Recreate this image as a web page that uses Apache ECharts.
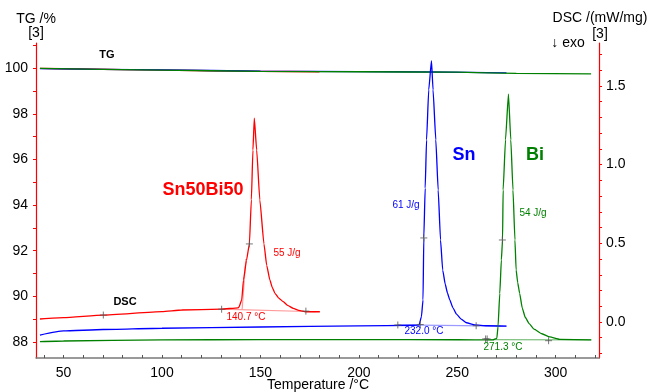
<!DOCTYPE html>
<html>
<head>
<meta charset="utf-8">
<script src="https://cdn.jsdelivr.net/npm/echarts@6/dist/echarts.min.js"></script>
<style>
  html, body { margin: 0; padding: 0; background: #fff; }
  #chart { width: 648px; height: 392px; }
</style>
</head>
<body>
<div id="chart"></div>
<script>
// temperature axis ticks
const tempLabels = [50, 100, 150, 200, 250, 300]
const tempTicks = [40, 50, 60, 70, 80, 90, 100, 110, 120, 130, 140, 150, 160, 170, 180, 190, 200,
  210, 220, 230, 240, 250, 260, 270, 280, 290, 300, 310, 320]
const tgLabels = [88, 90, 92, 94, 96, 98, 100]
const tgTicks = [88, 89, 90, 91, 92, 93, 94, 95, 96, 97, 98, 99, 100, 101]
const dscLabels = [0, 0.5, 1.0, 1.5]
const dscTicks = [-0.2, -0.1, 0, 0.1, 0.2, 0.3, 0.4, 0.5, 0.6, 0.7, 0.8, 0.9, 1.0, 1.1, 1.2, 1.3, 1.4, 1.5, 1.6, 1.7]

// TG curves (%)
const tgSnBiT = [38, 60, 100, 150, 180]
const tgSnBi = [99.99, 99.96, 99.91, 99.86, 99.84]
const tgSnT = [38, 100, 150, 200, 237, 275]
const tgSn = [99.98, 99.92, 99.87, 99.85, 99.83, 99.79]
const tgBiT = [38, 100, 150, 200, 250, 280, 318]
const tgBi = [99.99, 99.91, 99.86, 99.84, 99.82, 99.77, 99.75]

// DSC curves (mW/mg)
const dscSnBiT = [38, 50, 70, 100, 110, 130, 138.6, 139.1, 140.5, 141.4, 142.9, 144.4, 145.4, 146.2, 146.9,
  148.1, 149.7, 151.8, 153.2, 154.8, 156, 157.4, 159.3, 161.6, 163.8, 166.7, 169.5, 173.1, 180.2]
const dscSnBi = [0.019, 0.028, 0.044, 0.066, 0.076, 0.081, 0.09, 0.095, 0.14, 0.267, 0.39, 0.496, 0.776, 1.093, 1.295,
  1.093, 0.776, 0.496, 0.36, 0.267, 0.22, 0.182, 0.152, 0.129, 0.105, 0.087, 0.074, 0.065, 0.065]
const dscSnT = [38, 50, 70, 100, 150, 200, 228, 230.6, 231.8, 232.6, 233.0, 233.7, 234.4, 235.5, 236.9,
  237.7, 239.1, 240.3, 241.5, 242.6, 243.9, 245, 246.2, 247.8, 249.6, 252, 254.7, 258.9, 265, 275]
const dscSn = [-0.083, -0.057, -0.048, -0.04, -0.032, -0.025, -0.021, -0.019, 0.034, 0.14, 0.534, 0.85, 1.157, 1.475, 1.661,
  1.475, 1.157, 0.839, 0.521, 0.33, 0.24, 0.185, 0.14, 0.09, 0.05, 0.018, -0.005, -0.018, -0.024, -0.027]
const dscBiT = [38, 50, 100, 150, 200, 250, 268, 270.1, 270.7, 271.6, 272.4, 273.0, 273.3, 274.5, 276.0,
  277.2, 278.3, 279.3, 279.9, 280.7, 281.7, 283, 284.5, 286.5, 289, 293, 297.0, 302.0, 318.1]
const dscBi = [-0.125, -0.121, -0.114, -0.112, -0.112, -0.113, -0.114, -0.104, -0.03, 0.182, 0.394, 0.521, 0.839, 1.157, 1.448,
  1.157, 0.839, 0.521, 0.331, 0.25, 0.182, 0.09, 0.03, -0.01, -0.045, -0.075, -0.095, -0.11, -0.114]

// evaluation baselines and onset tangents
const baseSnBiT = [130, 178]
const baseSnBi = [0.081, 0.065]
const tanSnBiT = [140.7, 142.6]
const tanSnBi = [0.078, 0.4]
const baseSnT = [219.8, 275]
const baseSn = [-0.019, -0.027]
const baseBiT = [264.4, 318]
const baseBi = [-0.112, -0.114]

// evaluation limit markers (+)
const markSnBiT = [70.2, 130.3, 144.4, 173.1]
const markSnBi = [0.044, 0.081, 0.496, 0.069]
const markSnT = [219.8, 231.2, 233.0, 259.6]
const markSn = [-0.019, -0.016, 0.534, -0.024]
const markBiT = [264.4, 265.2, 272.9, 296.4]
const markBi = [-0.108, -0.108, 0.521, -0.119]

const pairs = (xs, ys) => xs.map((x, i) => [x, ys[i]])

const chart = echarts.init(document.getElementById('chart'), null, { renderer: 'canvas' })

const font = 'Liberation Sans, Arial, sans-serif'
const RED = '#ff0000'
const BLUE = '#0000ff'
const GREEN = '#008000'

const lineSeries = (name, xs, ys, color, yAxisIndex, width, z) => ({
  name,
  type: 'line',
  yAxisIndex,
  data: pairs(xs, ys),
  showSymbol: false,
  smooth: 0.15,
  smoothMonotone: 'x',
  lineStyle: { color, width },
  z,
  silent: true,
})

const markSeries = (xs, ys) => ({
  type: 'scatter',
  yAxisIndex: 1,
  data: pairs(xs, ys),
  symbol: 'path://M5,0L5,10M0,5L10,5',
  symbolSize: 7,
  itemStyle: { color: 'none', borderColor: '#555', borderWidth: 1 },
  z: 5,
  silent: true,
})

const txt = (text, x, y, fill, size, weight) => ({
  type: 'text',
  x,
  y,
  style: {
    text,
    fill,
    font: (weight || 'normal') + ' ' + size + 'px ' + font,
    textAlign: 'center',
    textVerticalAlign: 'middle',
  },
  z: 10,
})

const option = {
  animation: false,
  grid: { left: 36, right: 49, top: 43, bottom: 34 },
  xAxis: {
    type: 'value',
    min: 36,
    max: 322,
    axisLine: { onZero: false, lineStyle: { color: '#7a7a7a', width: 1.5 } },
    axisTick: { inside: true, length: 3, customValues: tempTicks, lineStyle: { color: '#555' } },
    axisLabel: { customValues: tempLabels, fontSize: 14, fontFamily: font, color: '#000', margin: 8 },
    splitLine: { show: false },
  },
  yAxis: [
    {
      type: 'value',
      position: 'left',
      min: 87.3,
      max: 101.1,
      axisLine: { show: true, onZero: false, lineStyle: { color: RED, width: 1.2 } },
      axisTick: { show: true, length: 3, customValues: tgTicks, lineStyle: { color: RED } },
      axisLabel: { customValues: tgLabels, fontSize: 14, fontFamily: font, color: '#000', margin: 8 },
      splitLine: { show: false },
    },
    {
      type: 'value',
      position: 'right',
      min: -0.229,
      max: 1.773,
      axisLine: { show: true, onZero: false, lineStyle: { color: RED, width: 1.2 } },
      axisTick: { show: true, length: 3, customValues: dscTicks, lineStyle: { color: RED } },
      axisLabel: {
        customValues: dscLabels,
        fontSize: 14,
        fontFamily: font,
        color: '#000',
        margin: 7,
        formatter: v => v.toFixed(1),
      },
      splitLine: { show: false },
    },
  ],
  series: [
    lineSeries('TG Sn50Bi50', tgSnBiT, tgSnBi, RED, 0, 1.3, 2),
    lineSeries('TG Sn', tgSnT, tgSn, BLUE, 0, 1.3, 2),
    lineSeries('TG Bi', tgBiT, tgBi, GREEN, 0, 1.3, 2),
    lineSeries('base Sn50Bi50', baseSnBiT, baseSnBi, '#ff9a9a', 1, 1.2, 3),
    lineSeries('tan Sn50Bi50', tanSnBiT, tanSnBi, '#ff9a9a', 1, 1.2, 3),
    lineSeries('base Sn', baseSnT, baseSn, '#9a9aff', 1, 1.2, 3),
    lineSeries('base Bi', baseBiT, baseBi, '#7fc07f', 1, 1.2, 3),
    lineSeries('DSC Sn50Bi50', dscSnBiT, dscSnBi, RED, 1, 1.3, 4),
    lineSeries('DSC Sn', dscSnT, dscSn, BLUE, 1, 1.3, 4),
    lineSeries('DSC Bi', dscBiT, dscBi, GREEN, 1, 1.3, 4),
    markSeries(markSnBiT, markSnBi),
    markSeries(markSnT, markSn),
    markSeries(markBiT, markBi),
  ],
  graphic: [
    txt('TG /%', 36, 19, '#000', 14),
    txt('[3]', 36, 33, '#000', 14),
    txt('DSC /(mW/mg)', 600, 18, '#000', 14),
    txt('[3]', 600, 34, '#000', 14),
    txt('\u2193 exo', 568, 43, '#000', 14),
    txt('Temperature /\u00b0C', 318, 385, '#000', 14),
    txt('TG', 107, 55, '#000', 11, 'bold'),
    txt('DSC', 125, 302, '#000', 11, 'bold'),
    txt('Sn50Bi50', 203, 190, RED, 18, 'bold'),
    txt('Sn', 464, 155, BLUE, 18, 'bold'),
    txt('Bi', 535, 155, GREEN, 18, 'bold'),
    txt('55 J/g', 287, 253, RED, 10),
    txt('61 J/g', 406, 205, BLUE, 10),
    txt('54 J/g', 533, 213, GREEN, 10),
    txt('140.7 \u00b0C', 246, 317, RED, 10),
    txt('232.0 \u00b0C', 424, 331, BLUE, 10),
    txt('271.3 \u00b0C', 503, 347, GREEN, 10),
  ],
}

chart.setOption(option)
</script>
</body>
</html>
